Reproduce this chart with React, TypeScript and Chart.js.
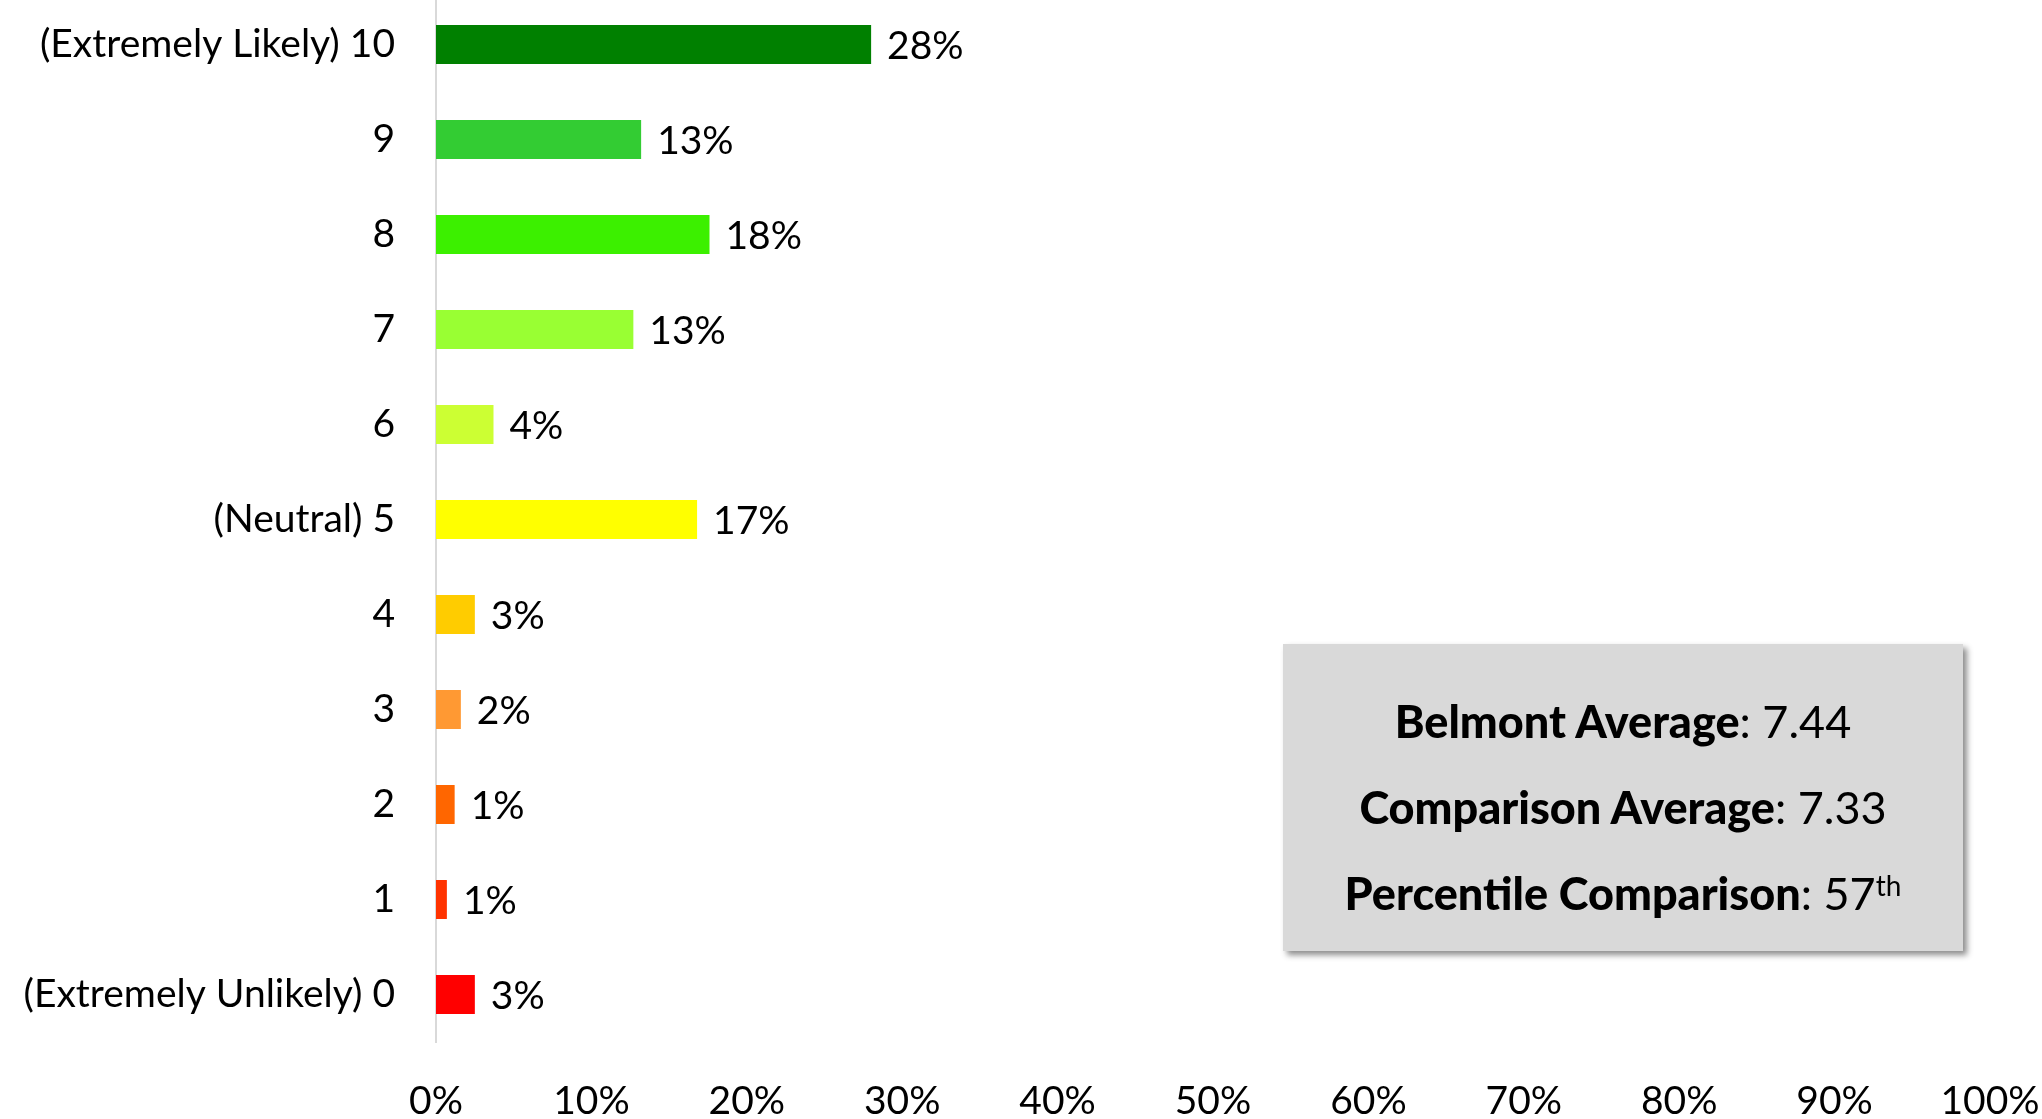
import React, { useEffect, useRef } from "react";
import { Chart, registerables } from "chart.js";

Chart.register(...registerables);

const categories = [
  "(Extremely Likely) 10",
  "9",
  "8",
  "7",
  "6",
  "(Neutral) 5",
  "4",
  "3",
  "2",
  "1",
  "(Extremely Unlikely) 0",
];
const values = [28.0, 13.2, 17.6, 12.7, 3.7, 16.8, 2.5, 1.6, 1.2, 0.7, 2.5];
const valueLabels = ["28%", "13%", "18%", "13%", "4%", "17%", "3%", "2%", "1%", "1%", "3%"];
const barColors = [
  "#008000",
  "#33CC33",
  "#3CF000",
  "#99FF33",
  "#CCFF33",
  "#FFFF00",
  "#FFCC00",
  "#FF9933",
  "#FF6600",
  "#FF3300",
  "#FF0000",
];
const xTicks = [0, 10, 20, 30, 40, 50, 60, 70, 80, 90, 100];
const summaryLabels = ["Belmont Average", "Comparison Average", "Percentile Comparison"];
const summaryValues = ["7.44", "7.33", "57"];

const FONT = "Lato, 'Open Sans', sans-serif";
const FONT_SIZE = 39;

const valueLabelPlugin = {
  id: "valueLabels",
  afterDatasetsDraw(chart: any) {
    const ctx = chart.ctx;
    const meta = chart.getDatasetMeta(0);
    ctx.save();
    ctx.font = `${FONT_SIZE}px ${FONT}`;
    ctx.fillStyle = "#000";
    ctx.textAlign = "left";
    ctx.textBaseline = "middle";
    meta.data.forEach((bar: any, i: number) => {
      ctx.fillText(valueLabels[i], bar.x + 16, bar.y + 2);
    });
    ctx.restore();
  },
};

export default function App() {
  const canvasRef = useRef<HTMLCanvasElement | null>(null);

  useEffect(() => {
    document.body.style.margin = "0";
    const canvas = canvasRef.current;
    if (!canvas) return;
    const chart = new Chart(canvas, {
      type: "bar",
      data: {
        labels: categories,
        datasets: [
          {
            data: values,
            backgroundColor: barColors,
            borderWidth: 0,
            categoryPercentage: 1,
            barPercentage: 0.41,
          },
        ],
      },
      options: {
        indexAxis: "y",
        animation: false,
        responsive: false,
        maintainAspectRatio: false,
        devicePixelRatio: 1,
        layout: { padding: { top: 0, right: 52, left: 0, bottom: 0 } },
        plugins: {
          legend: { display: false },
          tooltip: { enabled: false },
        },
        scales: {
          x: {
            type: "linear",
            min: 0,
            max: 100,
            afterBuildTicks: (scale: any) => {
              scale.ticks = xTicks.map((v) => ({ value: v }));
            },
            afterFit: (scale: any) => {
              scale.height = 77;
              scale.paddingLeft = 0;
              scale.paddingRight = 0;
              scale.paddingTop = 0;
              scale.paddingBottom = 0;
            },
            grid: { display: false, drawTicks: false },
            border: { display: false },
            ticks: {
              color: "#000",
              padding: 36,
              maxRotation: 0,
              font: { family: FONT, size: FONT_SIZE },
              callback: (v: any) => `${v}%`,
            },
          },
          y: {
            afterFit: (scale: any) => {
              scale.width = 436;
              scale.paddingLeft = 0;
              scale.paddingRight = 0;
              scale.paddingTop = 0;
              scale.paddingBottom = 0;
            },
            grid: { display: false, drawTicks: false },
            border: { display: true, color: "#d9d9d9", width: 2 },
            ticks: {
              color: "#000",
              padding: 41,
              font: { family: FONT, size: FONT_SIZE },
            },
          },
        },
      },
      plugins: [valueLabelPlugin],
    });
    return () => chart.destroy();
  }, []);

  const lineStyle: React.CSSProperties = {
    position: "absolute",
    left: 0,
    width: "100%",
    textAlign: "center",
    fontSize: 45,
    lineHeight: "45px",
    color: "#000",
    whiteSpace: "nowrap",
  };

  return (
    <div style={{ position: "relative", width: 2042, height: 1119, overflow: "hidden", fontFamily: FONT }}>
      <canvas
        ref={canvasRef}
        width={2042}
        height={1122}
        style={{ position: "absolute", left: 0, top: -3, width: 2042, height: 1122 }}
      />
      <div
        style={{
          position: "absolute",
          left: 1283,
          top: 644,
          width: 680,
          height: 307,
          background: "#d9d9d9",
          boxShadow: "4px 4px 6px rgba(0,0,0,0.45)",
        }}
      >
        {summaryLabels.map((lab, i) => (
          <div key={lab} style={{ ...lineStyle, top: 55 + i * 86 }}>
            <b style={{ fontWeight: 900 }}>{lab}</b>: {summaryValues[i]}
            {i === 2 ? <sup style={{ fontSize: 28, verticalAlign: "top", lineHeight: "28px" }}>th</sup> : null}
          </div>
        ))}
      </div>
    </div>
  );
}
